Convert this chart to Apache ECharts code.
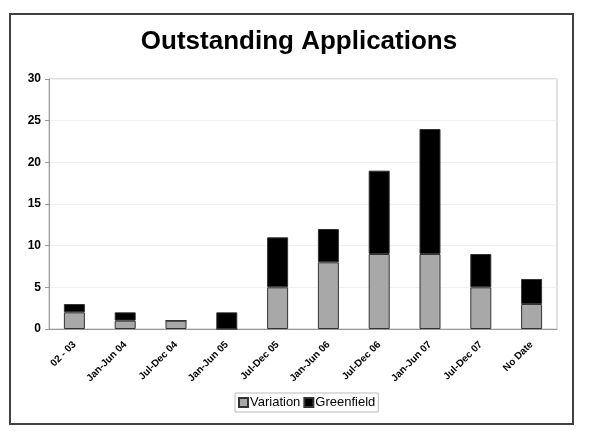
<!DOCTYPE html>
<html>
<head>
<meta charset="utf-8">
<script src="https://cdn.jsdelivr.net/npm/echarts@6/dist/echarts.min.js"></script>
<style>
  html, body { margin: 0; padding: 0; background: #fff; }
  #main { width: 600px; height: 439px; }
</style>
</head>
<body>
<div id="main"></div>
<script>
var periods = ['02 - 03', 'Jan-Jun 04', 'Jul-Dec 04', 'Jan-Jun 05', 'Jul-Dec 05',
               'Jan-Jun 06', 'Jul-Dec 06', 'Jan-Jun 07', 'Jul-Dec 07', 'No Date']
var variation  = [2, 1, 1, 0, 5, 8, 9, 9, 5, 3]
var greenfield = [1, 1, 0, 2, 6, 4, 10, 15, 4, 3]

var myChart = echarts.init(document.getElementById('main'))

var option = {
    animation: false,
    backgroundColor: '#fff',
    textStyle: { fontFamily: 'Liberation Sans, Arial, sans-serif' },
    title: {
        text: 'Outstanding Applications',
        left: 294,
        textAlign: 'center',
        top: 24,
        textStyle: { fontSize: 26, fontWeight: 'bold', color: '#000' }
    },
    // outer frame of the chart
    graphic: [{
        type: 'rect',
        shape: { x: 10, y: 14, width: 563, height: 410 },
        style: { fill: 'none', stroke: '#404040', lineWidth: 2 },
        silent: true
    }],
    legend: {
        bottom: 27,
        left: 235,
        icon: 'rect',
        itemWidth: 9,
        itemHeight: 9,
        itemGap: 3,
        padding: [3, 3, 3, 3],
        borderColor: '#bbb',
        borderWidth: 1,
        textStyle: { fontSize: 13, color: '#000', padding: [0, 0, 0, -3] },
        data: ['Variation', 'Greenfield']
    },
    grid: { left: 49, right: 43, top: 79, bottom: 110, show: true, borderColor: '#c0c0c0', borderWidth: 1 },
    xAxis: {
        type: 'category',
        data: periods,
        axisLine: { lineStyle: { color: '#999' } },
        axisTick: { lineStyle: { color: '#999' }, length: 4 },
        axisLabel: { rotate: 45, fontSize: 10, fontWeight: 'bold', color: '#000', interval: 0, margin: 14 }
    },
    yAxis: {
        type: 'value',
        min: 0,
        max: 30,
        interval: 5,
        axisLine: { show: true, lineStyle: { color: '#999' } },
        axisTick: { show: true, lineStyle: { color: '#999' }, length: 4 },
        axisLabel: { fontSize: 12, fontWeight: 'bold', color: '#000', margin: 8 },
        splitLine: { lineStyle: { color: '#f0f0f0' } }
    },
    series: [
        {
            name: 'Variation',
            type: 'bar',
            stack: 'total',
            barWidth: 21,
            data: variation,
            itemStyle: { color: '#a8a8a8', borderColor: '#333', borderWidth: 1 }
        },
        {
            name: 'Greenfield',
            type: 'bar',
            stack: 'total',
            barWidth: 21,
            data: greenfield,
            itemStyle: { color: '#000', borderColor: '#333', borderWidth: 1 }
        }
    ]
}
myChart.setOption(option)
</script>
</body>
</html>
